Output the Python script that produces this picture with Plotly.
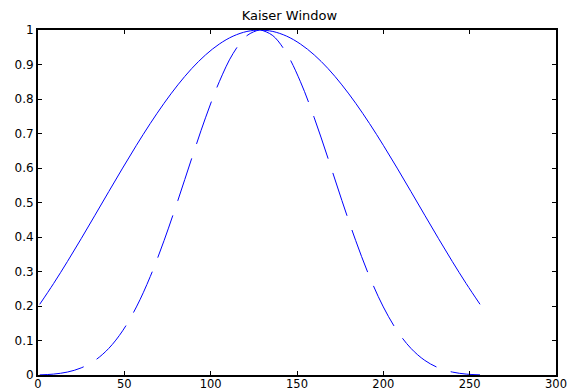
import plotly.graph_objects as go

# sample index (MATLAB 1-based) at which values were read
sample_idx = [1, 9, 17, 25, 33, 41, 49, 57, 65, 73, 81, 89, 97, 105, 113, 121, 128,
              129, 136, 144, 152, 160, 168, 176, 184, 192, 200, 208, 216, 224, 232, 240, 248, 256]

# solid curve (low beta Kaiser window)
window_solid = [0.2049, 0.2649, 0.3286, 0.3950, 0.4631, 0.5317, 0.5997, 0.6658, 0.7288,
                0.7876, 0.8410, 0.8881, 0.9277, 0.9593, 0.9822, 0.9958, 1.0000,
                1.0000, 0.9958, 0.9822, 0.9593, 0.9277, 0.8881, 0.8410, 0.7876,
                0.7288, 0.6658, 0.5997, 0.5317, 0.4631, 0.3950, 0.3286, 0.2649, 0.2049]

# dashed curve (high beta Kaiser window)
window_dashed = [0.0004, 0.0026, 0.0085, 0.0206, 0.0424, 0.0772, 0.1281, 0.1973, 0.2851,
                 0.3895, 0.5059, 0.6275, 0.7454, 0.8501, 0.9321, 0.9837, 1.0000,
                 1.0000, 0.9837, 0.9321, 0.8501, 0.7454, 0.6275, 0.5059, 0.3895,
                 0.2851, 0.1973, 0.1281, 0.0772, 0.0424, 0.0206, 0.0085, 0.0026, 0.0004]

x_ticks = [0, 50, 100, 150, 200, 250, 300]
y_ticks = [0, 0.1, 0.2, 0.3, 0.4, 0.5, 0.6, 0.7, 0.8, 0.9, 1]
y_tick_text = ["0", "0.1", "0.2", "0.3", "0.4", "0.5", "0.6", "0.7", "0.8", "0.9", "1"]

title_text = "Kaiser Window"

fig = go.Figure()
fig.add_trace(go.Scatter(x=sample_idx, y=window_solid, mode="lines",
                         line=dict(color="#0000FF", width=1, shape="spline"),
                         showlegend=False))
fig.add_trace(go.Scatter(x=sample_idx, y=window_dashed, mode="lines",
                         line=dict(color="#0000FF", width=1, shape="spline", dash="45px,15px"),
                         showlegend=False))

axis_common = dict(showgrid=False, zeroline=False, showline=True, linecolor="black",
                   linewidth=2, mirror="ticks", ticks="inside", ticklen=4,
                   tickcolor="black", tickwidth=1, automargin=False)

fig.update_xaxes(range=[0, 300], tickvals=x_ticks, ticklabelstandoff=-3,
                 tickfont=dict(family="DejaVu Sans", size=11.5, color="black"),
                 **axis_common)
fig.update_yaxes(range=[0, 1], tickvals=y_ticks, ticktext=y_tick_text,
                 tickfont=dict(family="DejaVu Sans", size=12, color="black"),
                 **axis_common)

# the page body adds an 8px offset, so the figure is sized to fill the rest of the window
fig.update_layout(
    width=572, height=383,
    margin=dict(l=30, r=24, t=22, b=16),
    paper_bgcolor="white", plot_bgcolor="white",
    title=dict(text=title_text, x=0.492, xanchor="center", y=0.980, yanchor="middle",
               yref="container", automargin=False,
               font=dict(family="DejaVu Sans", size=13, color="black")),
)

fig.write_html("out.html")
